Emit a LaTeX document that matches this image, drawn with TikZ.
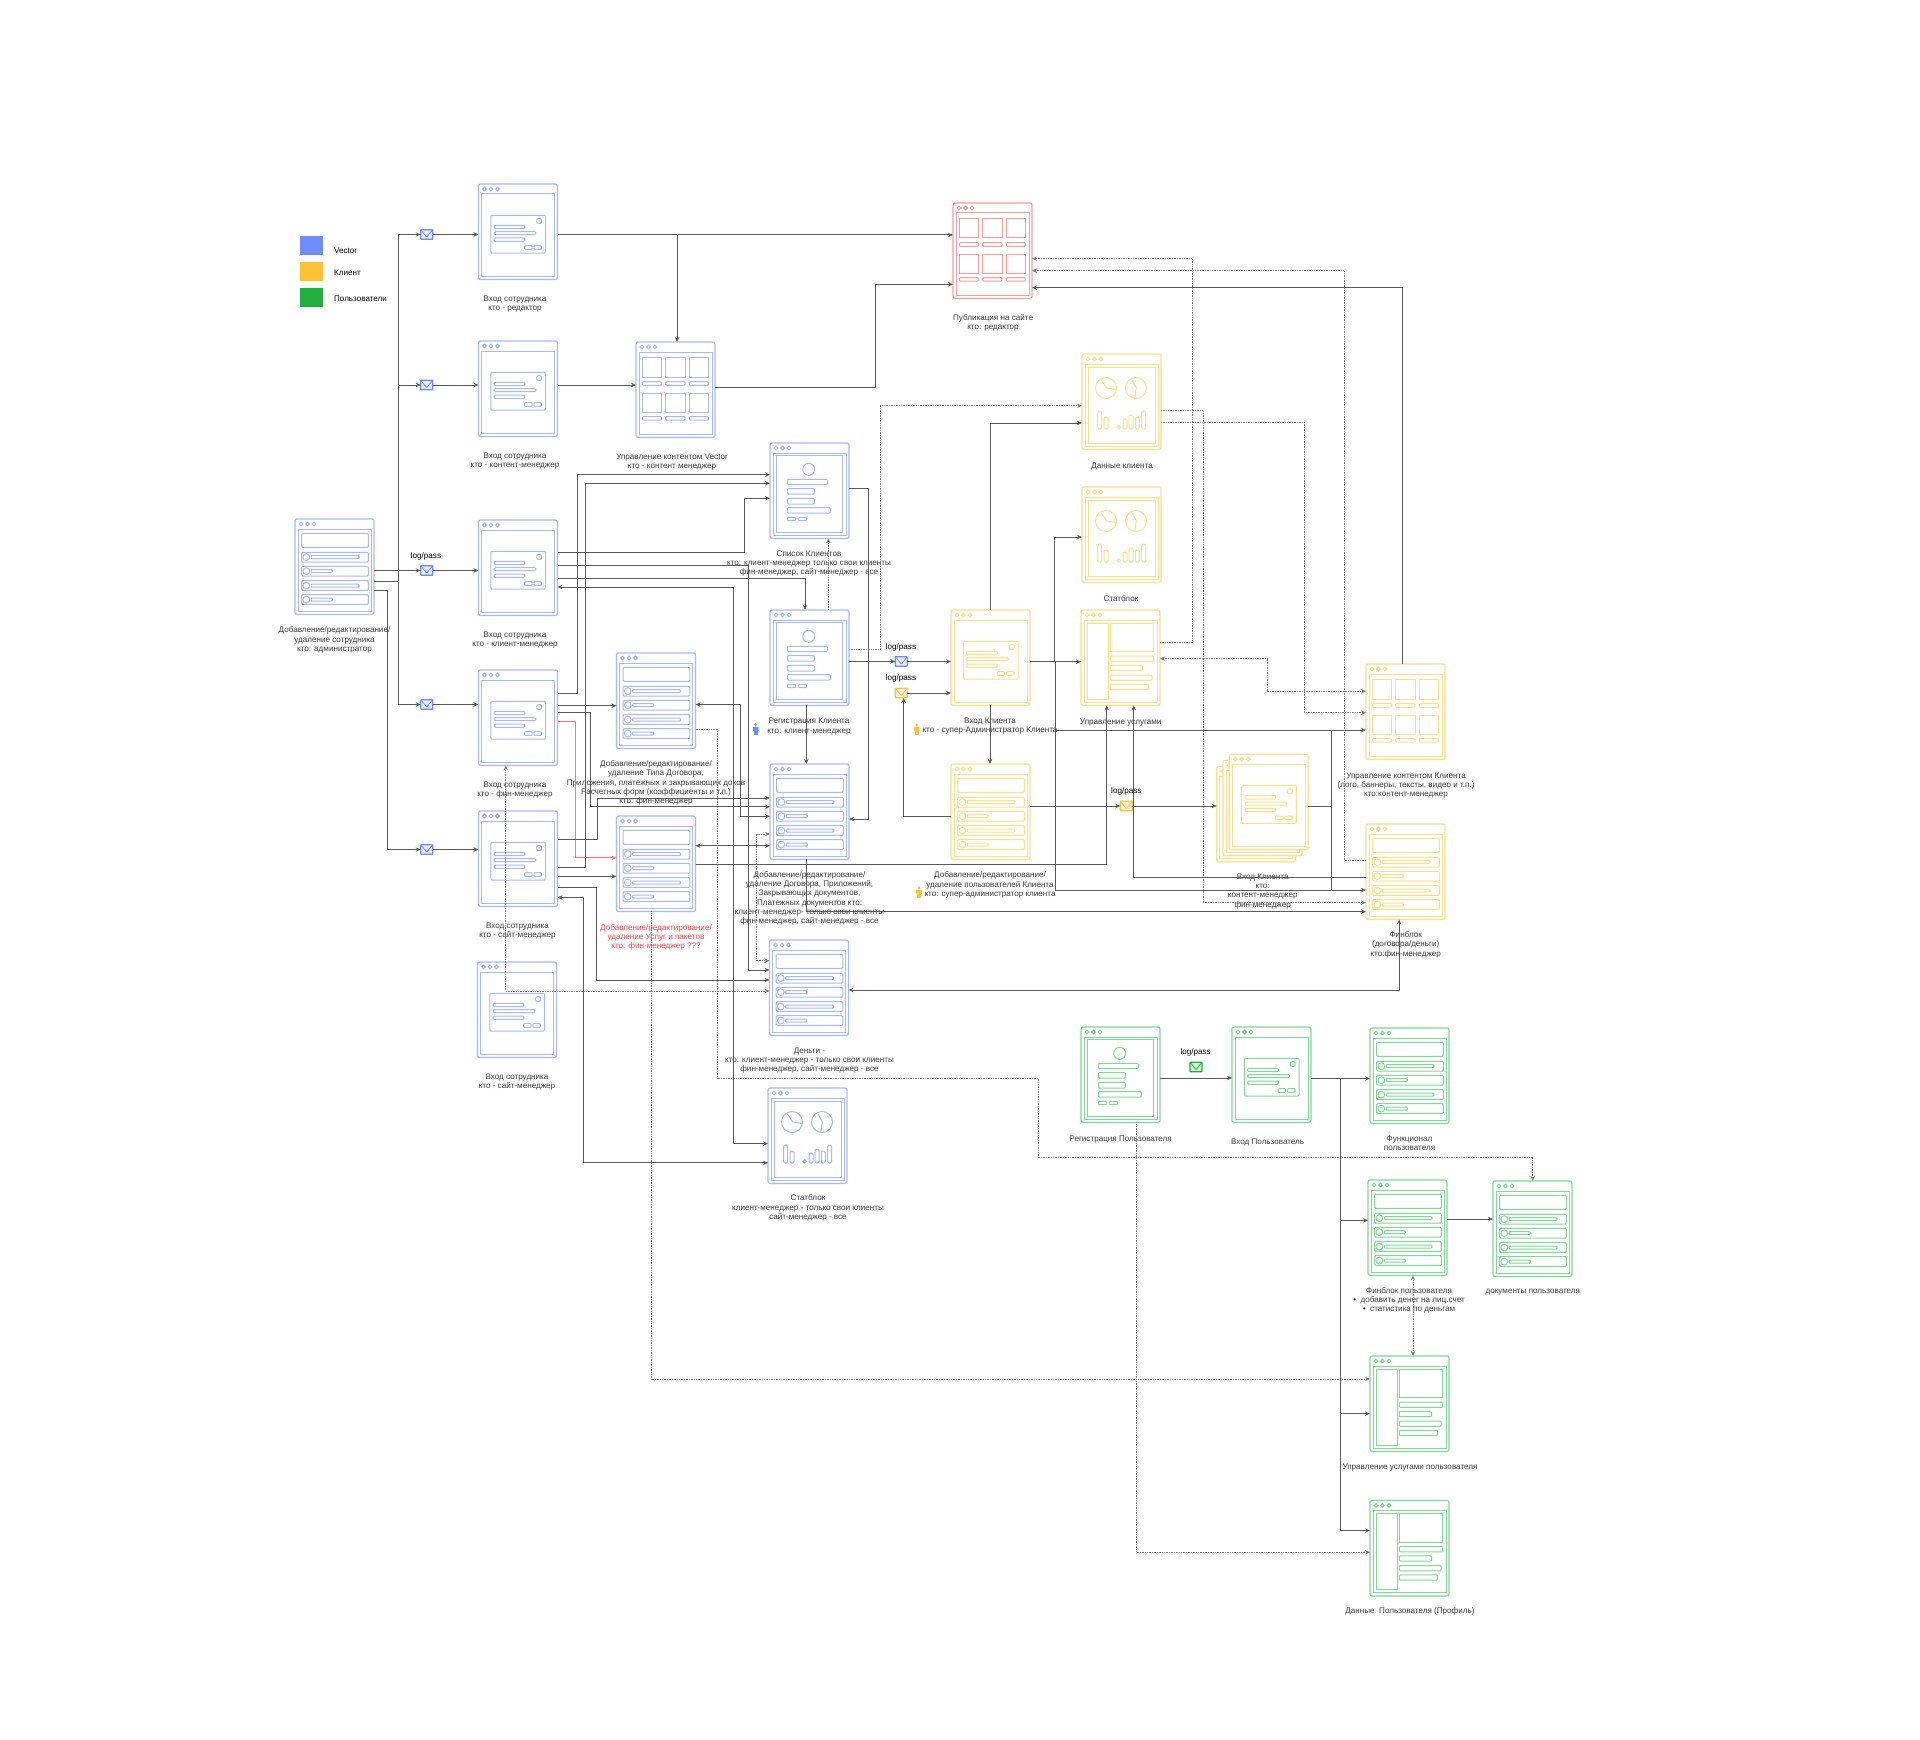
\documentclass[tikz,border=0pt]{standalone}
\usepackage{fontspec}
\setmainfont{Liberation Sans}
\usetikzlibrary{arrows.meta,positioning}

\definecolor{vecblue}{HTML}{A9B7FF}
\definecolor{vecstrong}{HTML}{6E8BFF}
\definecolor{cliyellow}{HTML}{FFDE8A}
\definecolor{clistrong}{HTML}{FFC233}
\definecolor{usrgreen}{HTML}{7FD997}
\definecolor{usrstrong}{HTML}{20B03E}
\definecolor{pubred}{HTML}{FF9A9A}
\definecolor{linegray}{HTML}{5A5A5A}
\definecolor{dotgray}{HTML}{7A7A7A}
\definecolor{textdark}{HTML}{3A3A3A}
\definecolor{redtext}{HTML}{FF3B4A}

\newcommand{\capfont}{\fontsize{4.05}{4.6}\selectfont}
\newcommand{\windowbase}{
  \draw (3,10) rectangle (76,92);
  \foreach \dotx in {6,12.5,19} \draw (\dotx,5) circle[radius=1.9];
}
\newcommand{\screenat}[5]{
  \node[screenbox,draw=#5] (#1) at (#2,#3) {};
  \pic[color=#5,line width=.5pt] at (#1.north west) {#4};
}

\tikzset{
  screenbox/.style={rectangle, rounded corners=1pt, line width=.6pt, minimum width=39.5pt, minimum height=47.7pt, inner sep=0pt, outer sep=0pt, anchor=north west},
  capt/.style={font=\capfont, align=center, inner sep=0pt, text=textdark, yshift=-.7pt},
  logpass/.style={font=\capfont, inner sep=0pt, text=black, yshift=-.3pt},
  swatch/.style={rectangle, minimum width=11.5pt, minimum height=9.5pt, inner sep=0pt, draw=none},
  mailbox/.style={rectangle, draw=#1, line width=.65pt, fill=#1!18!white, rounded corners=.3pt, minimum width=6pt, minimum height=4.8pt, inner sep=0pt, outer sep=0pt,
    path picture={\draw[#1, line width=.4pt] (path picture bounding box.north west) -- ([yshift=-1.3pt]path picture bounding box.center) -- (path picture bounding box.north east);}},
  person/.style={rectangle, minimum width=3pt, minimum height=6pt, inner sep=0pt, draw=none,
    path picture={\fill[#1] ([yshift=-.8pt]path picture bounding box.north) circle (.75pt);
      \fill[#1] ([yshift=-1.8pt]path picture bounding box.north west) rectangle ([yshift=-3.8pt]path picture bounding box.north east);
      \fill[#1] ([xshift=.6pt,yshift=-3.8pt]path picture bounding box.north west) rectangle ([xshift=-.6pt]path picture bounding box.south east);}},
  flow/.style={draw=linegray, line width=.5pt, -{Stealth[length=2.5pt,width=2.2pt]}},
  flowboth/.style={draw=linegray, line width=.5pt, {Stealth[length=2.5pt,width=2.2pt]}-{Stealth[length=2.5pt,width=2.2pt]}},
  plainflow/.style={draw=linegray, line width=.5pt},
  dotflow/.style={draw=dotgray, line width=.45pt, dash pattern=on .45pt off .4pt, -{Stealth[length=2.5pt,width=2.2pt]}},
  dotboth/.style={draw=dotgray, line width=.45pt, dash pattern=on .45pt off .4pt, {Stealth[length=2.5pt,width=2.2pt]}-{Stealth[length=2.5pt,width=2.2pt]}},
  redflow/.style={draw=red!55!white, line width=.55pt, -{Stealth[length=2.5pt,width=2.2pt]}},
  windowpic/.pic={\windowbase},
  loginpic/.pic={
    \windowbase
    \draw[rounded corners=.5pt] (12.3,31.3) rectangle (67,69);
    \draw (60.7,37) circle[radius=2.7];
    \draw[rounded corners=.5pt] (15.7,41.3) rectangle (46.3,44.7);
    \draw[rounded corners=.5pt] (15.7,47.7) rectangle (57.3,50.7);
    \draw[rounded corners=.5pt] (15.7,54) rectangle (46.3,57.3);
    \draw[rounded corners=.5pt] (46,61.7) rectangle (53.7,65.3);
    \draw[rounded corners=.5pt] (55.3,61.7) rectangle (63,65.3);
  },
  gridpic/.pic={
    \windowbase
    \foreach \colx in {6.3,29.7,53.3} {
      \draw (\colx,15.7) rectangle ++(19.3,19.3);
      \draw[rounded corners=.5pt] (\colx,39.7) rectangle ++(19.3,3.6);
      \draw (\colx,51) rectangle ++(19.3,19.3);
      \draw[rounded corners=.5pt] (\colx,74.7) rectangle ++(19.3,3.4);
    }
  },
  listpic/.pic={
    \windowbase
    \draw[rounded corners=.5pt] (6.7,14.3) rectangle (73.3,28.3);
    \foreach \rowy/\barx in {33.3/64,47.3/37.3,61.7/64,75.7/37.3} {
      \draw[rounded corners=.5pt] (6.7,\rowy) rectangle ++(66.6,9.7);
      \draw (11.3,\rowy+4.85) circle[radius=3.4];
      \draw[rounded corners=.5pt] (16,\rowy+3.3) rectangle (\barx,\rowy+6.4);
    }
  },
  profilepic/.pic={
    \windowbase
    \draw (6.3,12.7) rectangle (72.7,89);
    \draw (38.7,26.3) circle[radius=6];
    \draw[rounded corners=.5pt] (17.3,36.3) rectangle (57.3,41.7);
    \draw[rounded corners=.5pt] (17.3,45.7) rectangle (44.3,51);
    \draw[rounded corners=.5pt] (17.3,55.3) rectangle (44.3,61);
    \draw[rounded corners=.5pt] (17.3,64.7) rectangle (60.3,70);
    \draw[rounded corners=.5pt] (17.3,74.3) rectangle (25.7,77.7);
    \draw[rounded corners=.5pt] (28.3,74.3) rectangle (36.7,77.7);
  },
  chartpic/.pic={
    \windowbase
    \draw (6,13) rectangle (73,89);
    \draw (24,34) circle[radius=10.5];
    \draw (54,34) circle[radius=10.5];
    \draw (19.3,25.7) -- (24.7,34) -- (35,35.7);
    \draw (50.3,26.3) -- (54.3,33.7) -- (52.7,44.7);
    \foreach \barx/\bartop in {15.7/57,22/63,41/65,47/61,53.3/63,59.7/57}
      \draw[rounded corners=.7pt] (\barx,\bartop) rectangle (\barx+4,75);
    \draw (36.7,73.3) circle[radius=1.7];
  },
  panelpic/.pic={
    \windowbase
    \draw (6,13) rectangle (27,89);
    \draw (29.3,13) rectangle (72.7,41.7);
    \draw[rounded corners=.5pt] (29.3,46) rectangle (72.7,51.3);
    \draw[rounded corners=.5pt] (29.3,55.3) rectangle (61.7,60.7);
    \draw[rounded corners=.5pt] (29.3,65) rectangle (71,70.3);
    \draw[rounded corners=.5pt] (29.3,74.3) rectangle (67.7,79.7);
  }
}

\begin{document}
\begin{tikzpicture}[x=.5pt,y=-.5pt]
  \path[use as bounding box, fill=white] (0,0) rectangle (1920,1739);

  \node[swatch,fill=vecstrong] (keyVector) at (311.5,245.5) {};
  \node[swatch,fill=clistrong] (keyClient) at (311.5,271.5) {};
  \node[swatch,fill=usrstrong] (keyUser) at (311.5,297.5) {};
  \node[logpass,anchor=west] (keyVectorT) at (333.7,250) {Vector};
  \node[logpass,anchor=west] (keyClientT) at (333.7,272.5) {Клиент};
  \node[logpass,anchor=west] (keyUserT) at (333.7,298.5) {Пользователи};

  \screenat{addEmp}{295}{519}{listpic}{vecblue}
  \screenat{inEd}{478.5}{184}{loginpic}{vecblue}
  \screenat{inCm}{478.5}{341}{loginpic}{vecblue}
  \screenat{inKm}{478.5}{520}{loginpic}{vecblue}
  \screenat{inFin}{478.5}{670}{loginpic}{vecblue}
  \screenat{inSite}{478.5}{811}{loginpic}{vecblue}
  \screenat{inThree}{477.5}{962}{loginpic}{vecblue}
  \screenat{contV}{636}{342}{gridpic}{vecblue}
  \screenat{addType}{616.5}{653}{listpic}{vecblue}
  \screenat{addSvc}{616.5}{816}{listpic}{vecblue}
  \screenat{clients}{770}{443}{profilepic}{vecblue}
  \screenat{regKl}{770}{610}{profilepic}{vecblue}
  \screenat{dogovor}{770}{764}{listpic}{vecblue}
  \screenat{money}{769.5}{940}{listpic}{vecblue}
  \screenat{statV}{768}{1088}{chartpic}{vecblue}

  \screenat{pub}{953}{203}{gridpic}{pubred}

  \screenat{dataKl}{1082}{354}{chartpic}{cliyellow}
  \screenat{statKl}{1082}{487}{chartpic}{cliyellow}
  \screenat{svcKl}{1081}{610}{panelpic}{cliyellow}
  \screenat{inKl}{951}{610}{loginpic}{cliyellow}
  \screenat{usersKl}{951}{764}{listpic}{cliyellow}
  \screenat{contKl}{1366}{664}{gridpic}{cliyellow}
  \screenat{finKl}{1366}{824}{listpic}{cliyellow}
  \node[screenbox,draw=cliyellow,fill=white] (stackA) at (1216.7,766.3) {};
  \pic[color=cliyellow,line width=.5pt] at (stackA.north west) {windowpic};
  \node[screenbox,draw=cliyellow,fill=white] (stackB) at (1223,760.3) {};
  \pic[color=cliyellow,line width=.5pt] at (stackB.north west) {windowpic};
  \node[screenbox,draw=cliyellow,fill=white] (stackC) at (1229.3,754.3) {};
  \pic[color=cliyellow,line width=.5pt] at (stackC.north west) {loginpic};

  \screenat{regUs}{1081}{1027}{profilepic}{usrgreen}
  \screenat{inUs}{1232}{1027}{loginpic}{usrgreen}
  \screenat{funcUs}{1370}{1028}{listpic}{usrgreen}
  \screenat{finUs}{1368}{1180}{listpic}{usrgreen}
  \screenat{docsUs}{1493}{1181}{listpic}{usrgreen}
  \screenat{svcUs}{1370}{1356}{panelpic}{usrgreen}
  \screenat{dataUs}{1370}{1500.5}{panelpic}{usrgreen}

  \node[mailbox=vecstrong] (mailEd) at (426.7,234.5) {};
  \node[mailbox=vecstrong] (mailCm) at (426.7,385) {};
  \node[mailbox=vecstrong] (mailKm) at (426.7,570.5) {};
  \node[mailbox=vecstrong] (mailFin) at (426.7,704.5) {};
  \node[mailbox=vecstrong] (mailSite) at (426.7,849.5) {};
  \node[mailbox=vecstrong] (mailKl) at (901.3,661.5) {};
  \node[mailbox=clistrong] (mailSelf) at (901.3,693) {};
  \node[mailbox=clistrong] (mailStack) at (1126.3,806) {};
  \node[mailbox=usrstrong] (mailUs) at (1196,1067) {};

  \node[logpass] (logKm) at (426,556) {log/pass};
  \node[logpass] (logKl) at (901,646.7) {log/pass};
  \node[logpass] (logSelf) at (901,677.7) {log/pass};
  \node[logpass] (logStack) at (1126.3,790.7) {log/pass};
  \node[logpass] (logUs) at (1195.7,1051.5) {log/pass};

  \node[person=vecstrong] (manReg) at (755.7,729) {};
  \node[person=clistrong] (manKl) at (916.7,729.3) {};
  \node[person=clistrong] (manUsers) at (919,892) {};

  \node[capt] (capAddEmp) at (334.5,638.5) {Добавление/редактирование/\\удаление сотрудника\\кто: администратор};
  \node[capt] (capEd) at (515,302.5) {Вход сотрудника\\кто - редактор};
  \node[capt] (capCm) at (515,459.5) {Вход сотрудника\\кто - контент-менеджер};
  \node[capt] (capKm) at (515,638.5) {Вход сотрудника\\кто - клиент-менеджер};
  \node[capt] (capFin) at (515,788.5) {Вход сотрудника\\кто - фин-менеджер};
  \node[capt] (capSite) at (517.5,929.5) {Вход сотрудника\\кто - сайт-менеджер};
  \node[capt] (capThree) at (517,1080.5) {Вход сотрудника\\кто - сайт-менеджер};
  \node[capt] (capContV) at (672,460.5) {Управление контентом Vector\\кто - контент менеджер};
  \node[capt] (capType) at (656,781.5) {Добавление/редактирование/\\удаление Типа Договора,\\Приложения, платежных и закрывающих доков\\Расчетных форм (коэффициенты и т.п.)\\кто: фин-менеджер};
  \node[capt,text=redtext] (capSvc) at (656,936) {Добавление/редактирование/\\удаление Услуг и пакетов\\кто: фин-менеджер ???};
  \node[capt] (capClients) at (809,562) {Список Клиентов\\кто: клиент-менеджер только свои клиенты\\фин-менеджер, сайт-менеджер - все};
  \node[capt] (capReg) at (809,725.2) {Регистрация Клиента\\кто: клиент-менеджер};
  \node[capt] (capDog) at (809.5,897) {Добавление/редактирование/\\удаление Договора, Приложений,\\Закрывающих документов,\\Платежных документов кто:\\клиент-менеджер- только свои клиенты\\фин-менеджер, сайт-менеджер - все};
  \node[capt] (capMoney) at (809.5,1059.3) {Деньги -\\кто: клиент-менеджер - только свои клиенты\\фин-менеджер, сайт-менеджер - все};
  \node[capt] (capStatV) at (808,1206.5) {Статблок\\клиент-менеджер - только свои клиенты\\сайт-менеджер - все};
  \node[capt] (capPub) at (993,321.8) {Публикация на сайте\\кто: редактор};
  \node[capt] (capData) at (1122,464.7) {Данные клиента};
  \node[capt] (capStatK) at (1121,597.3) {Статблок};
  \node[capt] (capSvcK) at (1120.7,720.7) {Управление услугами};
  \node[capt] (capInK) at (990,724.5) {Вход Клиента\\кто - супер-Администратор Клиента};
  \node[capt] (capUsers) at (990,883.5) {Добавление/редактирование/\\удаление пользователей Клиента\\кто: супер-администратор клиента};
  \node[capt] (capStack) at (1262.7,890) {Вход Клиента\\кто:\\контент-менеджер\\фин-менеджер};
  \node[capt] (capContK) at (1406,784) {Управление контентом Клиента\\(лого, баннеры, тексты, видео и т.п.)\\кто:контент-менеджер};
  \node[capt] (capFinK) at (1405.7,943.3) {Финблок\\(договора/деньги)\\кто:фин-менеджер};
  \node[capt] (capRegU) at (1120.6,1137.7) {Регистрация Пользователя};
  \node[capt] (capInU) at (1267.6,1141.6) {Вход Пользователь};
  \node[capt] (capFuncU) at (1409.5,1142.2) {Функционал\\пользователя};
  \node[capt] (capFinU) at (1409,1299.2) {Финблок пользователя\\•\ \ добавить денег на лиц.счет\\•\ \ статистика по деньгам};
  \node[capt] (capDocsU) at (1532.8,1290.6) {документы пользователя};
  \node[capt] (capSvcU) at (1410,1466) {Управление услугами пользователя};
  \node[capt] (capDataU) at (1410,1610) {Данные\ \ Пользователя (Профиль)};

  \draw[flow] (addEmp.east |- mailKm) -- (mailKm.west);
  \draw[flow] (mailKm.east) -- (inKm.west |- mailKm);
  \draw[flow] (addEmp.east |- 0,581) -| (398,234.5) -- (mailEd.west);
  \draw[flow] (398,385) -- (mailCm.west);
  \draw[flow] (398,581) |- (mailFin.west);
  \draw[flow] (addEmp.east |- 0,590) -| (387,849.5) -- (mailSite.west);
  \draw[flow] (mailEd.east) -- (inEd.west |- mailEd);
  \draw[flow] (mailCm.east) -- (inCm.west |- mailCm);
  \draw[flow] (mailFin.east) -- (inFin.west |- mailFin);
  \draw[flow] (mailSite.east) -- (inSite.west |- mailSite);

  \draw[flow] (inEd.east |- 0,235) -- (pub.west |- 0,235);
  \draw[flow] (677,235) -- (contV.north -| 677,0);
  \draw[flow] (inCm.east |- 0,385) -- (contV.west |- 0,385);
  \draw[flow] (contV.east |- 0,387) -| (875.5,284.3) -- (pub.west |- 0,284.3);

  \draw[flow] (inKm.east |- 0,552.3) -| (744.7,498.3) -- (clients.west |- 0,498.3);
  \draw[flow] (inKm.east |- 0,565) -| (748,970) -- (money.west |- 0,970);
  \draw[flow] (inKm.east |- 0,578) -| (regKl.north -| 805,0);
  \draw[flowboth] (inKm.east |- 0,587) -| (733.7,1143.6) -- (statV.west |- 0,1143.6);

  \draw[flow] (inFin.east |- 0,693) -| (577,474.7) -- (clients.west |- 0,474.7);
  \draw[flow] (inFin.east |- 0,705.7) -- (addType.west |- 0,705.7);
  \draw[flow] (inFin.east |- 0,712.9) -| (590.4,806.8) -- (dogovor.west |- 0,806.8);
  \draw[redflow] (inFin.east |- 0,721.8) -| (575.8,857.9) -- (addSvc.west |- 0,857.9);

  \draw[flow] (inSite.east |- 0,839.3) -| (597,798) -- (dogovor.west |- 0,798);
  \draw[flow] (inSite.east |- 0,867.9) -| (585.7,483.3) -- (clients.west |- 0,483.3);
  \draw[flow] (inSite.east |- 0,876.4) -- (addSvc.west |- 0,876.4);
  \draw[flow] (inSite.east |- 0,887.5) -| (596.3,980) -- (money.west |- 0,980);
  \draw[flowboth] (inSite.east |- 0,897.5) -| (583.3,1162.9) -- (statV.west |- 0,1162.9);

  \draw[flowboth] (addType.east |- 0,704.6) -| (740,816.4) -- (dogovor.west |- 0,816.4);
  \draw[flowboth] (addSvc.east |- 0,845.7) -- (dogovor.west |- 0,845.7);
  \draw[flow] (addSvc.east |- 0,864.3) -| (svcKl.south -| 1106.7,0);

  \draw[flow] (clients.east |- 0,488) -| (868.3,819) -- (dogovor.east |- 0,819);
  \draw[flow] (regKl.south -| 806.3,0) -- (dogovor.north -| 806.3,0);
  \draw[flow] (regKl.east |- mailKl) -- (mailKl.west);
  \draw[flow] (mailKl.east) -- (inKl.west |- mailKl);
  \draw[flow] (mailSelf.east) -- (inKl.west |- mailSelf);
  \draw[dotflow] (regKl.north -| 828.3,0) -- (clients.south -| 828.3,0);
  \draw[dotflow] (regKl.east |- 0,649.7) -| (880,405.7) -- (dataKl.west |- 0,405.7);

  \draw[flow] (dogovor.south -| 806.3,0) -- (806.3,911.7) -- (finKl.west |- 0,911.7);
  \draw[flowboth] (money.east |- 0,990) -| (finKl.south -| 1399,0);

  \draw[dotboth] (dogovor.west |- 0,834) -| (756.5,960.7) -- (money.west |- 0,960.7);
  \draw[dotflow] (addType.east |- 0,729.3) -| (717.7,1078) -| (1038,1157.4) -| (docsUs.north -| 1532.8,0);
  \draw[dotflow] (addSvc.south -| 651.7,0) -- (651.7,1379) -- (svcUs.west |- 0,1379);
  \draw[dotboth] (inFin.south -| 505.8,0) -- (505.8,991) -- (money.west |- 0,991);

  \draw[flow] (inKl.north -| 990,0) -- (990,423) -- (dataKl.west |- 0,423);
  \draw[flow] (inKl.east |- 0,661.7) -- (svcKl.west |- 0,661.7);
  \draw[flow] (1054,661.7) |- (statKl.west |- 0,537);
  \draw[flow] (1055.3,661.7) |- (finKl.west |- 0,890);
  \draw[flow] (1055.3,730) -- (contKl.west |- 0,730);
  \draw[plainflow] (1331,730) -- (1331,890);
  \draw[plainflow] (stackC.east |- 0,806) -- (1331,806);
  \draw[flow] (inKl.south -| 990,0) -- (usersKl.north -| 990,0);

  \draw[flow] (usersKl.west |- 0,816) -| (mailSelf.south -| 903.7,0);
  \draw[flow] (usersKl.east |- mailStack) -- (mailStack.west);
  \draw[flow] (mailStack.east) -- (stackA.west |- mailStack);
  \draw[flow] (finKl.west |- 0,877.3) -| (svcKl.south -| 1133.7,0);
  \draw[flow] (contKl.north -| 1402.7,0) -- (1402.7,287.7) -- (pub.east |- 0,287.7);

  \draw[dotflow] (svcKl.east |- 0,642.7) -| (1192,258.7) -- (pub.east |- 0,258.7);
  \draw[dotflow] (finKl.west |- 0,860.3) -| (1344,270.7) -- (pub.east |- 0,270.7);
  \draw[dotflow] (dataKl.east |- 0,410.7) -| (1203,902.7) -- (finKl.west |- 0,902.7);
  \draw[dotflow] (dataKl.east |- 0,422.3) -| (1304.3,712.7) -- (contKl.west |- 0,712.7);
  \draw[dotboth] (svcKl.east |- 0,658.7) -| (1267.3,691.3) -- (contKl.west |- 0,691.3);

  \draw[flow] (regUs.east |- 0,1078) -- (inUs.west |- 0,1078);
  \draw[flow] (inUs.east |- 0,1078.5) -- (funcUs.west |- 0,1078.5);
  \draw[flow] (1340,1078.5) |- (dataUs.west |- 0,1530.5);
  \draw[flow] (1340,1220.3) -- (finUs.west |- 0,1220.3);
  \draw[flow] (1340,1413.6) -- (svcUs.west |- 0,1413.6);
  \draw[flow] (finUs.east |- 0,1219) -- (docsUs.west |- 0,1219);
  \draw[dotboth] (finUs.south -| 1413,0) -- (svcUs.north -| 1413,0);
  \draw[dotflow] (regUs.south -| 1136.4,0) -- (1136.4,1552.3) -- (dataUs.west |- 0,1552.3);
\end{tikzpicture}
\end{document}
